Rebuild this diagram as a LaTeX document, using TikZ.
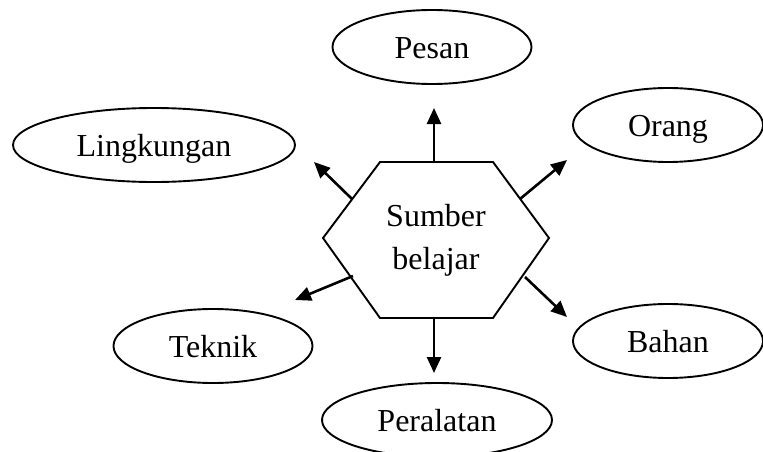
\documentclass[tikz,border=0pt]{standalone}
\usepackage{fontspec}
\setmainfont{Liberation Serif}
\usetikzlibrary{shapes.geometric,arrows.meta}
\begin{document}
\begin{tikzpicture}[x=1pt,y=-1pt,
  bubble/.style={ellipse,draw,line width=1.9pt,inner sep=0pt,
    font=\fontsize{32}{38}\selectfont,text height=26.5pt,text depth=3pt},
  outarrow/.style={line width=2.6pt,-{Triangle[length=16pt,width=14pt]}}]
\useasboundingbox (0,0) rectangle (763,452);

% central hexagon
\coordinate (hL) at (323,238);
\coordinate (hTL) at (380,162);
\coordinate (hTR) at (493,162);
\coordinate (hR) at (549,238);
\coordinate (hBR) at (493,318);
\coordinate (hBL) at (380,318);
\draw[line width=1.9pt,line join=miter] (hL) -- (hTL) -- (hTR) -- (hR) -- (hBR) -- (hBL) -- cycle;
\node[align=center,font=\fontsize{32}{43}\selectfont] (src) at (436,240) {Sumber\\belajar};

% surrounding ellipses
\node[bubble,minimum width=199pt,minimum height=74pt] (pesan) at (432,47) {Pesan};
\node[bubble,minimum width=190pt,minimum height=74pt] (orang) at (668,125) {Orang};
\node[bubble,minimum width=282pt,minimum height=74pt] (ling) at (154,145) {Lingkungan};
\node[bubble,minimum width=199pt,minimum height=74pt] (teknik) at (213,346) {Teknik};
\node[bubble,minimum width=190pt,minimum height=74pt] (bahan) at (668,341) {Bahan};
\node[bubble,minimum width=230pt,minimum height=74pt] (alat) at (437,420) {Peralatan};

% arrow start points on the hexagon and free tips
\coordinate (sP) at (434,162);  \coordinate (tP) at (434,108);
\coordinate (sO) at (520,199);  \coordinate (tO) at (567,160);
\coordinate (sL) at (352,199);  \coordinate (tL) at (314,162);
\coordinate (sT) at (353,276);  \coordinate (tT) at (295,300);
\coordinate (sB) at (525,277);  \coordinate (tB) at (567,317);
\coordinate (sA) at (434,318);  \coordinate (tA) at (434,373);

\draw[outarrow] (sP) -- (tP);
\draw[outarrow] (sO) -- (tO);
\draw[outarrow] (sL) -- (tL);
\draw[outarrow] (sT) -- (tT);
\draw[outarrow] (sB) -- (tB);
\draw[outarrow] (sA) -- (tA);
\end{tikzpicture}
\end{document}
